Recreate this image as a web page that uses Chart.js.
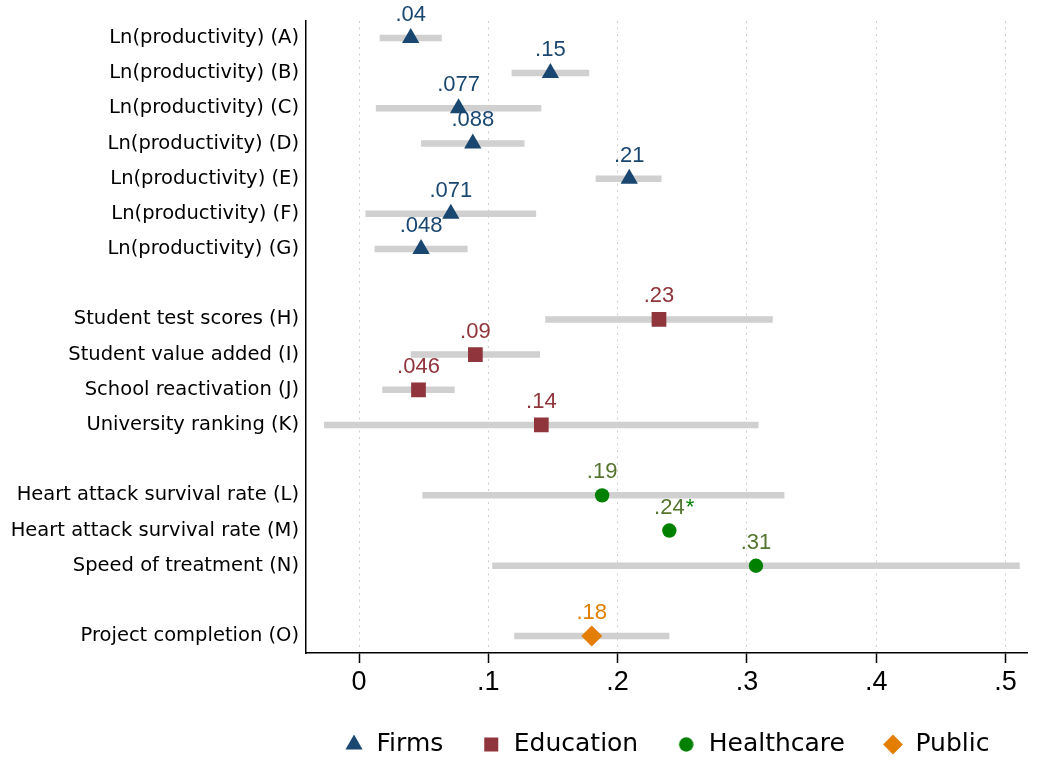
<!DOCTYPE html>
<html>
<head>
<meta charset="utf-8">
<script src="https://cdn.jsdelivr.net/npm/chart.js@4.4.1/dist/chart.umd.min.js"></script>
<style>
  html, body { margin: 0; padding: 0; background: #fff; }
  #wrap { width: 1038px; height: 761px; }
</style>
</head>
<body>
<div id="wrap"><canvas id="chart"></canvas></div>
<script>
// Firms
const firmsLabels = ['Ln(productivity) (A)', 'Ln(productivity) (B)', 'Ln(productivity) (C)', 'Ln(productivity) (D)',
                     'Ln(productivity) (E)', 'Ln(productivity) (F)', 'Ln(productivity) (G)'];
const firmsEst  = [0.040, 0.148, 0.077, 0.088, 0.209, 0.071, 0.048];
const firmsLo   = [0.016, 0.118, 0.013, 0.048, 0.183, 0.005, 0.012];
const firmsHi   = [0.064, 0.178, 0.141, 0.128, 0.234, 0.137, 0.084];
const firmsText = ['.04', '.15', '.077', '.088', '.21', '.071', '.048'];

// Education
const eduLabels = ['Student test scores (H)', 'Student value added (I)', 'School reactivation (J)', 'University ranking (K)'];
const eduEst  = [0.232, 0.090, 0.046, 0.141];
const eduLo   = [0.144, 0.040, 0.018, -0.027];
const eduHi   = [0.320, 0.140, 0.074, 0.309];
const eduText = ['.23', '.09', '.046', '.14'];

// Healthcare
const healthLabels = ['Heart attack survival rate (L)', 'Heart attack survival rate (M)', 'Speed of treatment (N)'];
const healthEst  = [0.188, 0.240, 0.307];
const healthLo   = [0.049, null, 0.103];
const healthHi   = [0.329, null, 0.511];
const healthText = ['.19', '.24', '.31'];
const healthStar = [false, true, false];

// Public
const publicLabels = ['Project completion (O)'];
const publicEst  = [0.180];
const publicLo   = [0.120];
const publicHi   = [0.240];
const publicText = ['.18'];

const xTicks = [0, 0.1, 0.2, 0.3, 0.4, 0.5];

const groups = [
  { name: 'Firms', labels: firmsLabels, est: firmsEst, lo: firmsLo, hi: firmsHi, text: firmsText,
    color: '#1a476f', textColor: '#1a476f', style: 'triangle', radius: 10 },
  { name: 'Education', labels: eduLabels, est: eduEst, lo: eduLo, hi: eduHi, text: eduText,
    color: '#90353b', textColor: '#90353b', style: 'rect', radius: 10.4 },
  { name: 'Healthcare', labels: healthLabels, est: healthEst, lo: healthLo, hi: healthHi, text: healthText, star: healthStar,
    color: '#008000', textColor: '#55752f', style: 'circle', radius: 7.2 },
  { name: 'Public', labels: publicLabels, est: publicEst, lo: publicLo, hi: publicHi, text: publicText,
    color: '#e37e00', textColor: '#e37e00', style: 'rectRot', radius: 10.5 }
];

// one row per outcome, an empty row between groups
let row = 0;
const rowNames = {};
groups.forEach(g => {
  g.rows = g.labels.map(name => { rowNames[row] = name; return row++; });
  row++;
});

const ciData = [];
groups.forEach(g => g.rows.forEach((r, i) => {
  if (g.lo[i] === null) return;
  ciData.push({ x: g.lo[i], y: r }, { x: g.hi[i], y: r }, { x: null, y: null });
}));

const datasets = groups.map(g => ({
  label: g.name,
  data: g.rows.map((r, i) => ({ x: g.est[i], y: r })),
  pointStyle: g.style,
  pointRadius: g.radius,
  pointHoverRadius: g.radius,
  backgroundColor: g.color,
  borderColor: g.color,
  pointBorderWidth: 0
}));
datasets.push({
  label: 'CI',
  data: ciData,
  showLine: true,
  spanGaps: false,
  borderColor: '#d0d0d0',
  borderWidth: 6.5,
  borderCapStyle: 'butt',
  pointRadius: 0,
  pointHoverRadius: 0
});

// the legend scales every symbol to one box size; keep the circle as small as in the plot
function dotImage(color, r) {
  const c = document.createElement('canvas');
  c.width = c.height = Math.ceil(r * 2) + 2;
  const g = c.getContext('2d');
  g.fillStyle = color;
  g.beginPath();
  g.arc(c.width / 2, c.height / 2, r, 0, Math.PI * 2);
  g.fill();
  return c;
}
const healthDot = dotImage('#008000', 7.2);

// estimate labels above each marker
const valueLabels = {
  id: 'valueLabels',
  afterDatasetsDraw(chart) {
    const ctx = chart.ctx;
    ctx.save();
    ctx.font = '22px "Liberation Sans", Arial, sans-serif';
    ctx.textBaseline = 'alphabetic';
    groups.forEach((g, gi) => {
      chart.getDatasetMeta(gi).data.forEach((pt, i) => {
        const txt = g.text[i];
        ctx.textAlign = 'center';
        ctx.fillStyle = g.textColor;
        ctx.fillText(txt, pt.x, pt.y - 17);
        if (g.star && g.star[i]) {
          const w = ctx.measureText(txt).width;
          ctx.textAlign = 'left';
          ctx.fillStyle = g.color;
          ctx.fillText('*', pt.x + w / 2 + 1, pt.y - 17);
        }
      });
    });
    ctx.restore();
  }
};

new Chart(document.getElementById('chart'), {
  type: 'scatter',
  data: { datasets: datasets },
  plugins: [valueLabels],
  options: {
    responsive: true,
    maintainAspectRatio: false,
    animation: false,
    layout: { padding: { top: 21, right: 2, left: 0, bottom: -6 } },
    plugins: {
      tooltip: { enabled: false },
      legend: {
        position: 'bottom',
        fullSize: false,
        labels: {
          usePointStyle: true,
          boxWidth: 20,
          boxHeight: 14,
          padding: 38,
          color: '#000',
          font: { family: '"DejaVu Sans", sans-serif', size: 25 },
          filter: item => item.datasetIndex < groups.length,
          generateLabels: chart => {
            const items = Chart.defaults.plugins.legend.labels.generateLabels(chart);
            items.forEach(it => { if (it.text === 'Healthcare') it.pointStyle = healthDot; });
            return items;
          }
        }
      }
    },
    scales: {
      x: {
        type: 'linear',
        min: -0.041,
        max: 0.517,
        afterBuildTicks: s => { s.ticks = xTicks.map(v => ({ value: v })); },
        afterFit: s => { s.height = 41; },
        grid: {
          color: '#cfcfcf',
          lineWidth: 1,
          drawTicks: true,
          tickLength: 10,
          tickColor: '#000',
          tickWidth: 1.5,
          tickBorderDash: []
        },
        border: { display: true, color: '#000', width: 1.5, dash: [2, 4.5] },
        ticks: {
          color: '#000',
          padding: 3,
          font: { family: '"Liberation Sans", Arial, sans-serif', size: 27 },
          callback: v => v === 0 ? '0' : String(v).replace(/^0/, '')
        }
      },
      y: {
        type: 'linear',
        reverse: true,
        min: -0.48,
        max: 17.48,
        afterBuildTicks: s => { s.ticks = Object.keys(rowNames).map(k => ({ value: +k })); },
        afterFit: s => { s.width = 306; },
        grid: { display: false, drawTicks: false },
        border: { display: true, color: '#000', width: 1.5 },
        ticks: {
          color: '#000',
          padding: 7,
          autoSkip: false,
          font: { family: '"DejaVu Sans", sans-serif', size: 19.5 },
          callback: v => rowNames[v] || ''
        }
      }
    }
  }
});
</script>
</body>
</html>
